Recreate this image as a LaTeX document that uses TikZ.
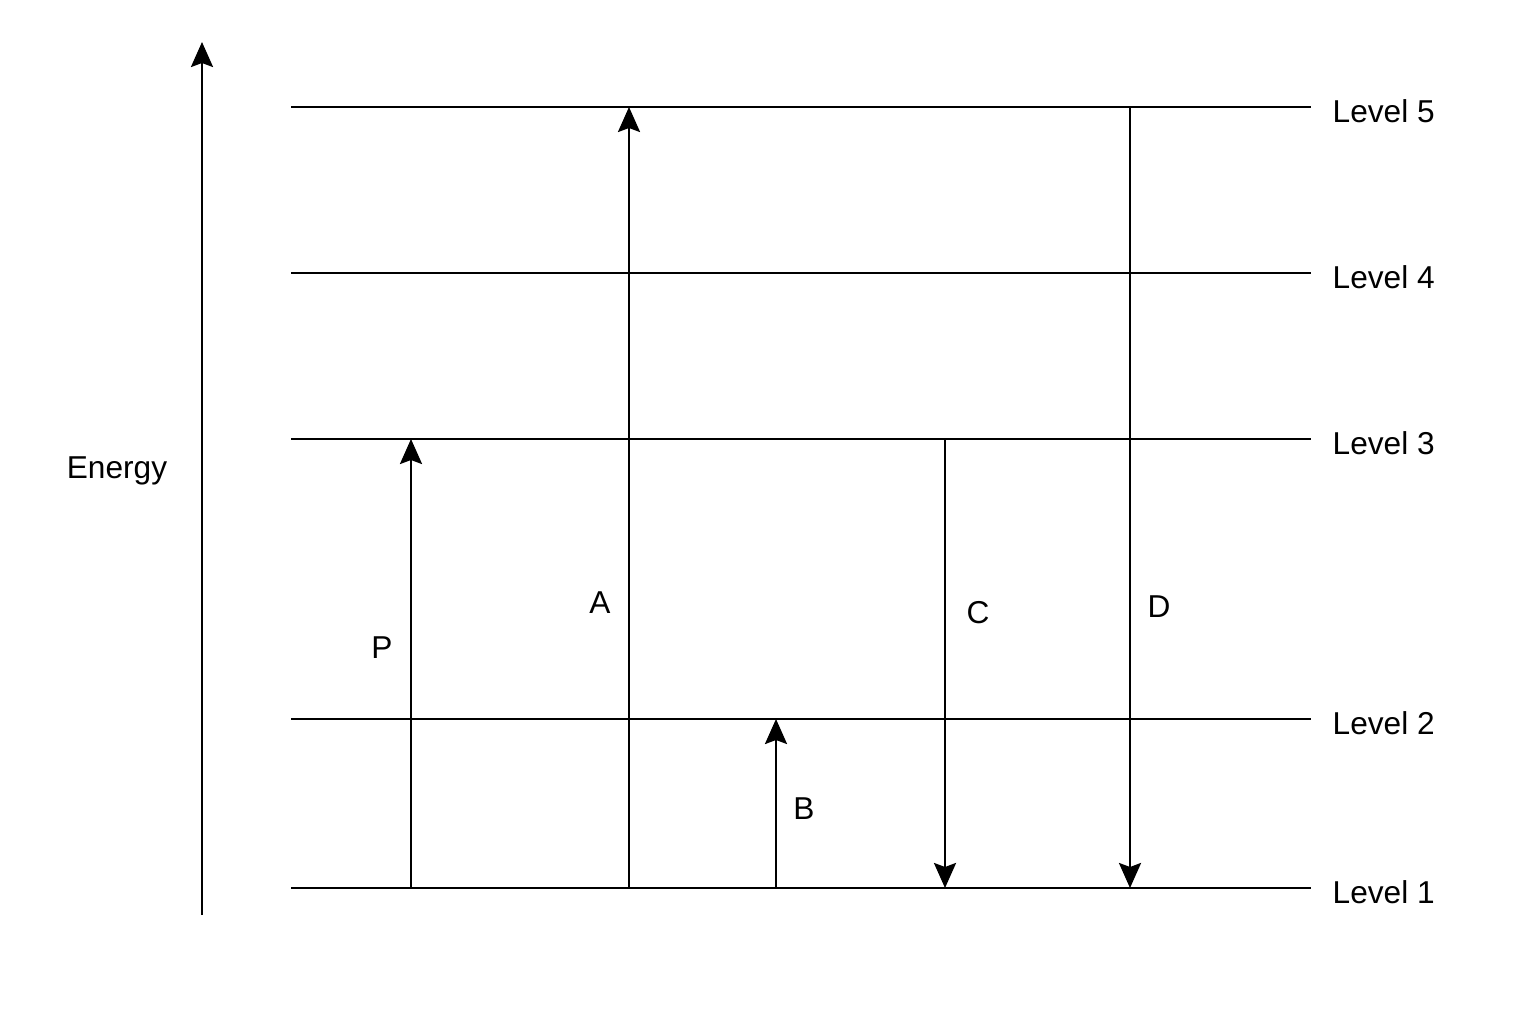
\documentclass[tikz,border=0pt]{standalone}
\usepackage{fontspec}
\setmainfont{Liberation Sans}
\usetikzlibrary{arrows.meta}
\tikzset{
	level/.style={draw=black, line width=0.75pt, solid},
	trans/.style={draw=black, line width=0.75pt, -{Stealth[length=0.25cm, width=0.22cm, inset=0.04cm]}},
	lbl/.style={black, inner sep=0pt, font=\fontsize{9}{10}\selectfont},
}
\begin{document}
\begin{tikzpicture}
	\useasboundingbox (0.00,0.00) rectangle (15.36,10.24);
	\coordinate (l1s) at (2.91,1.36);
	\coordinate (l1e) at (13.11,1.36);
	\coordinate (l2s) at (2.91,3.05);
	\coordinate (l2e) at (13.11,3.05);
	\coordinate (l3s) at (2.91,5.85);
	\coordinate (l3e) at (13.11,5.85);
	\coordinate (l4s) at (2.91,7.51);
	\coordinate (l4e) at (13.11,7.51);
	\coordinate (l5s) at (2.91,9.17);
	\coordinate (l5e) at (13.11,9.17);
	\coordinate (ax0) at (2.02,1.09);
	\coordinate (ax1) at (2.02,9.82);
	\draw[trans] (ax0) -- (ax1);
	\node[lbl] (energy) at (1.17,5.53) {Energy};
	\draw[level] (l1s) -- (l1e);
	\draw[level] (l2s) -- (l2e);
	\draw[level] (l3s) -- (l3e);
	\draw[level] (l4s) -- (l4e);
	\draw[level] (l5s) -- (l5e);
	\node[lbl, anchor=west] (lv1) at (13.32,1.32) {Level 1};
	\node[lbl, anchor=west] (lv2) at (13.32,3.01) {Level 2};
	\node[lbl, anchor=west] (lv3) at (13.32,5.81) {Level 3};
	\node[lbl, anchor=west] (lv4) at (13.32,7.47) {Level 4};
	\node[lbl, anchor=west] (lv5) at (13.32,9.13) {Level 5};
	\coordinate (p0) at (4.11,1.36);
	\coordinate (p1) at (4.11,5.85);
	\coordinate (a0) at (6.29,1.36);
	\coordinate (a1) at (6.29,9.17);
	\coordinate (b0) at (7.76,1.36);
	\coordinate (b1) at (7.76,3.05);
	\coordinate (c0) at (9.45,5.85);
	\coordinate (c1) at (9.45,1.36);
	\coordinate (d0) at (11.30,9.17);
	\coordinate (d1) at (11.30,1.36);
	\draw[trans] (p0) -- (p1);
	\draw[trans] (a0) -- (a1);
	\draw[trans] (b0) -- (b1);
	\draw[trans] (c0) -- (c1);
	\draw[trans] (d0) -- (d1);
	\node[lbl] (tp) at (3.82,3.76) {P};
	\node[lbl] (ta) at (6.00,4.21) {A};
	\node[lbl] (tb) at (8.04,2.15) {B};
	\node[lbl] (tc) at (9.78,4.11) {C};
	\node[lbl] (td) at (11.59,4.17) {D};
\end{tikzpicture}
\end{document}
